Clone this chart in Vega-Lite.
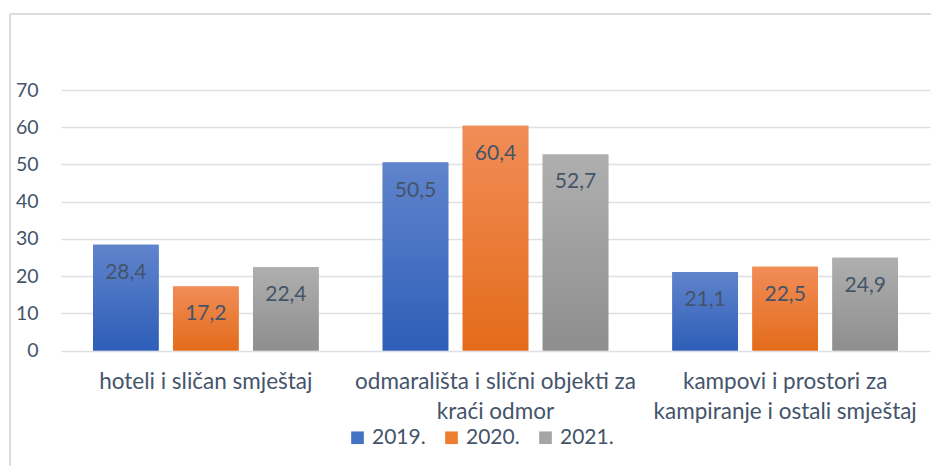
{
  "$schema": "https://vega.github.io/schema/vega-lite/v6.json",
  "width": 921,
  "height": 452,
  "autosize": {"type": "none"},
  "padding": {"left": 10, "top": 14, "right": 0, "bottom": 0},
  "background": "white",
  "config": {
    "font": "Lato",
    "locale": {"number": {"decimal": ",", "thousands": ".", "grouping": [3], "currency": ["", " €"]}},
    "view": {"stroke": "#D9DCE1", "strokeWidth": 2, "strokeDash": [921, 1373, 452, 0]}
  },
  "data": {
    "values": [
      {"category": "hoteli i sličan smještaj", "year": "2019.", "value": 28.4},
      {"category": "hoteli i sličan smještaj", "year": "2020.", "value": 17.2},
      {"category": "hoteli i sličan smještaj", "year": "2021.", "value": 22.4},
      {"category": "odmarališta i slični objekti za kraći odmor", "year": "2019.", "value": 50.5},
      {"category": "odmarališta i slični objekti za kraći odmor", "year": "2020.", "value": 60.4},
      {"category": "odmarališta i slični objekti za kraći odmor", "year": "2021.", "value": 52.7},
      {"category": "kampovi i prostori za kampiranje i ostali smještaj", "year": "2019.", "value": 21.1},
      {"category": "kampovi i prostori za kampiranje i ostali smještaj", "year": "2020.", "value": 22.5},
      {"category": "kampovi i prostori za kampiranje i ostali smještaj", "year": "2021.", "value": 24.9}
    ]
  },
  "encoding": {
    "x": {
      "field": "category",
      "type": "nominal",
      "sort": null,
      "scale": {"range": [51, 920], "paddingInner": 0, "paddingOuter": 0},
      "axis": {
        "title": null,
        "domain": false,
        "ticks": false,
        "tickSize": 0,
        "labelPadding": 20,
        "offset": -116,
        "labelAngle": 0,
        "labelFont": "Lato",
        "labelFontSize": 22.5,
        "labelColor": "#44546A",
        "labelBaseline": "top",
        "labelLineHeight": 30,
        "labelLimit": 0,
        "labelExpr": "datum.value == 'odmarališta i slični objekti za kraći odmor' ? ['odmarališta i slični objekti za', 'kraći odmor'] : datum.value == 'kampovi i prostori za kampiranje i ostali smještaj' ? ['kampovi i prostori za', 'kampiranje i ostali smještaj'] : datum.label"
      }
    },
    "xOffset": {
      "field": "year",
      "type": "nominal",
      "scale": {"paddingInner": 0.18, "paddingOuter": 0.4}
    },
    "y": {
      "field": "value",
      "type": "quantitative",
      "scale": {"domain": [0, 70], "range": [336.5, 76], "nice": false, "zero": true},
      "axis": {
        "title": null,
        "domain": false,
        "ticks": false,
        "tickSize": 0,
        "labelPadding": 0,
        "offset": -28,
        "values": [0, 10, 20, 30, 40, 50, 60, 70],
        "labelFont": "Lato",
        "labelFontSize": 19.5,
        "labelColor": "#44546A",
        "grid": true,
        "gridColor": "#DDE0E5",
        "gridWidth": 1.5
      }
    }
  },
  "layer": [
    {
      "mark": {"type": "bar"},
      "encoding": {
        "color": {
          "field": "year",
          "type": "nominal",
          "scale": {"range": ["#4472C4", "#ED7D31", "#A5A5A5"]},
          "legend": {
            "orient": "none",
            "legendX": 337,
            "legendY": 413,
            "direction": "horizontal",
            "title": null,
            "symbolType": "square",
            "symbolSize": 160,
            "symbolStrokeWidth": 0,
            "labelFont": "Lato",
            "labelFontSize": 21,
            "labelColor": "#44546A",
            "labelOffset": 4,
            "columnPadding": 15
          }
        }
      }
    },
    {
      "mark": {"type": "bar"},
      "encoding": {
        "fill": {
          "condition": [
            {"test": "datum.year === '2019.'", "value": {"gradient": "linear", "x1": 0, "y1": 0, "x2": 0, "y2": 1, "stops": [{"offset": 0, "color": "#6084CC"}, {"offset": 1, "color": "#2E5EB8"}]}},
            {"test": "datum.year === '2020.'", "value": {"gradient": "linear", "x1": 0, "y1": 0, "x2": 0, "y2": 1, "stops": [{"offset": 0, "color": "#F18D58"}, {"offset": 1, "color": "#E46B1A"}]}}
          ],
          "value": {"gradient": "linear", "x1": 0, "y1": 0, "x2": 0, "y2": 1, "stops": [{"offset": 0, "color": "#AFAFAF"}, {"offset": 1, "color": "#8E8E8E"}]}
        }
      }
    },
    {
      "mark": {"type": "text", "baseline": "middle", "dy": 28, "fontSize": 21, "font": "Lato", "color": "#44546A"},
      "encoding": {
        "text": {"field": "value", "type": "quantitative", "format": ".1f"}
      }
    }
  ]
}
